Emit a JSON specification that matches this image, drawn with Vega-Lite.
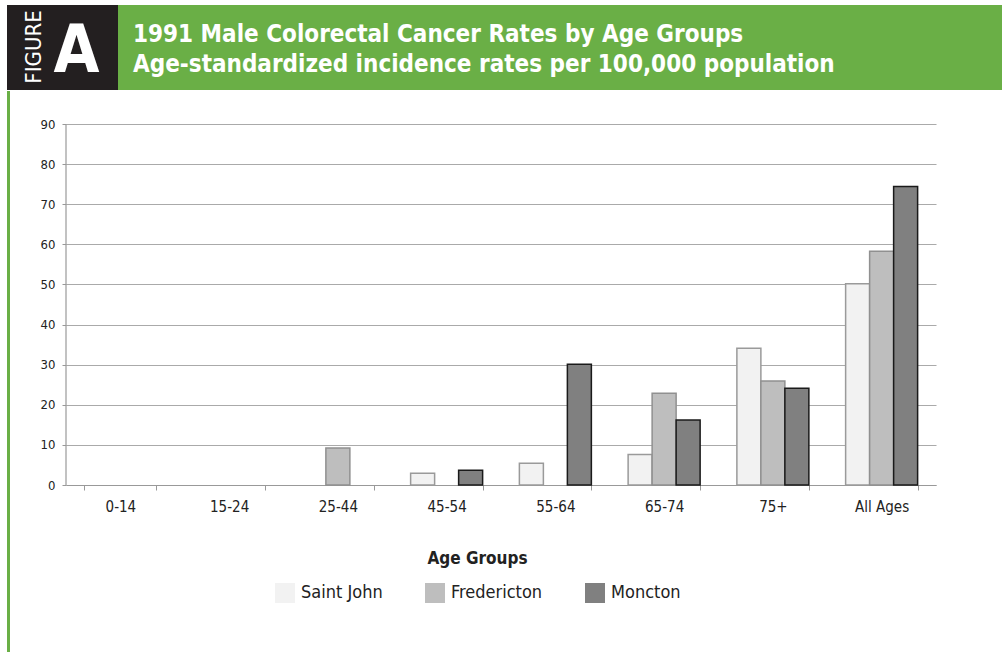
{
  "$schema": "https://vega.github.io/schema/vega-lite/v6.json",
  "padding": {"left": 6, "top": 5, "right": 0, "bottom": 0},
  "background": "white",
  "config": {
    "view": {"stroke": null},
    "font": "'DejaVu Sans Condensed', 'Liberation Sans', sans-serif",
    "concat": {"spacing": 0}
  },
  "datasets": {
    "bars": [
      {"age": "25-44", "city": "Fredericton", "rate": 9.2},
      {"age": "45-54", "city": "Saint John", "rate": 2.9},
      {"age": "45-54", "city": "Moncton", "rate": 3.7},
      {"age": "55-64", "city": "Saint John", "rate": 5.4},
      {"age": "55-64", "city": "Moncton", "rate": 30.1},
      {"age": "65-74", "city": "Saint John", "rate": 7.6},
      {"age": "65-74", "city": "Fredericton", "rate": 22.9},
      {"age": "65-74", "city": "Moncton", "rate": 16.2},
      {"age": "75+", "city": "Saint John", "rate": 34.1},
      {"age": "75+", "city": "Fredericton", "rate": 25.9},
      {"age": "75+", "city": "Moncton", "rate": 24.1},
      {"age": "All Ages", "city": "Saint John", "rate": 50.2},
      {"age": "All Ages", "city": "Fredericton", "rate": 58.3},
      {"age": "All Ages", "city": "Moncton", "rate": 74.4}
    ]
  },
  "vconcat": [
    {
      "spacing": 0,
      "hconcat": [
        {
          "width": 111,
          "height": 85,
          "view": {"fill": "#231f20", "stroke": null},
          "data": {"values": [{}]},
          "layer": [
            {
              "mark": {"type": "text", "text": "FIGURE", "angle": 270, "align": "center", "baseline": "middle", "fontSize": 22, "color": "white", "x": 26.5, "y": 42}
            },
            {
              "mark": {"type": "text", "text": "A", "align": "center", "baseline": "alphabetic", "fontSize": 66, "fontWeight": "bold", "color": "white", "x": 69.5, "y": 67}
            }
          ]
        },
        {
          "width": 885,
          "height": 85,
          "view": {"fill": "#6aaf46", "stroke": null},
          "data": {"values": [{}]},
          "mark": {"type": "text", "text": ["1991 Male Colorectal Cancer Rates by Age Groups", "Age-standardized incidence rates per 100,000 population"], "align": "left", "baseline": "alphabetic", "lineHeight": 30, "fontSize": 24, "fontWeight": "bold", "color": "white", "x": 15, "y": 36.5}
        }
      ]
    },
    {
      "spacing": 30,
      "hconcat": [
        {"width": 3, "height": 562, "view": {"fill": "#6aaf46", "stroke": null}, "data": {"values": [{}]}, "mark": {"type": "rule", "opacity": 0}, "encoding": {}},
        {
          "width": 870,
          "height": 394,
          "data": {"name": "bars"},
          "layer": [
            {
              "mark": {"type": "bar", "strokeWidth": 1.5},
              "encoding": {
                "x": {
                  "field": "age", "type": "nominal",
                  "scale": {"domain": ["0-14", "15-24", "25-44", "45-54", "55-64", "65-74", "75+", "All Ages"], "paddingInner": 0.338, "paddingOuter": 0.169},
                  "axis": {
                    "title": "Age Groups", "titleFontSize": 17, "titleFontWeight": "bold", "titleColor": "#222", "titleX": 411, "titlePadding": 36,
                    "labelAngle": 0, "labelFontSize": 15, "labelColor": "#222", "labelPadding": 9,
                    "tickBand": "extent", "tickSize": 5, "tickColor": "#999", "domainColor": "#999", "domainWidth": 1.2, "grid": false
                  }
                },
                "xOffset": {"field": "city", "type": "nominal", "scale": {"domain": ["Saint John", "Fredericton", "Moncton"], "paddingInner": 0, "paddingOuter": 0}},
                "y": {
                  "field": "rate", "type": "quantitative",
                  "scale": {"domain": [0, 98.23], "nice": false, "zero": true},
                  "axis": {
                    "title": null, "values": [0, 10, 20, 30, 40, 50, 60, 70, 80, 90], "domain": false,
                    "labelFontSize": 13, "labelColor": "#222", "labelPadding": 7,
                    "tickSize": 4, "tickColor": "#999", "grid": true, "gridColor": "#aaa", "gridWidth": 1.2
                  }
                },
                "fill": {
                  "field": "city", "type": "nominal",
                  "scale": {"domain": ["Saint John", "Fredericton", "Moncton"], "range": ["#f2f2f2", "#bebebe", "#808080"]},
                  "legend": {
                    "title": null, "orient": "none", "direction": "horizontal", "legendX": 268, "legendY": 578,
                    "symbolType": "square", "symbolSize": 400, "symbolStrokeWidth": 0, "symbolOpacity": 1,
                    "labelFontSize": 18, "labelColor": "#222", "labelOffset": 6, "columnPadding": 42,
                    "encode": {"symbols": {"update": {"fill": {"value": {"expr": "datum.value === 'Saint John' ? '#dadada' : datum.value === 'Fredericton' ? '#a6a6a6' : '#5a5a5a'"}}, "strokeWidth": {"value": 0}}}}
                  }
                },
                "stroke": {"field": "city", "type": "nominal", "scale": {"domain": ["Saint John", "Fredericton", "Moncton"], "range": ["#9a9a9a", "#909090", "#1a1a1a"]}, "legend": null}
              }
            },
            {
              "data": {"values": [{"lo": 0, "hi": 90}]},
              "mark": {"type": "rule", "color": "#999", "strokeWidth": 1.2},
              "encoding": {
                "x": {"value": 0},
                "y": {"field": "lo", "type": "quantitative"},
                "y2": {"field": "hi"}
              }
            }
          ]
        }
      ]
    }
  ]
}
